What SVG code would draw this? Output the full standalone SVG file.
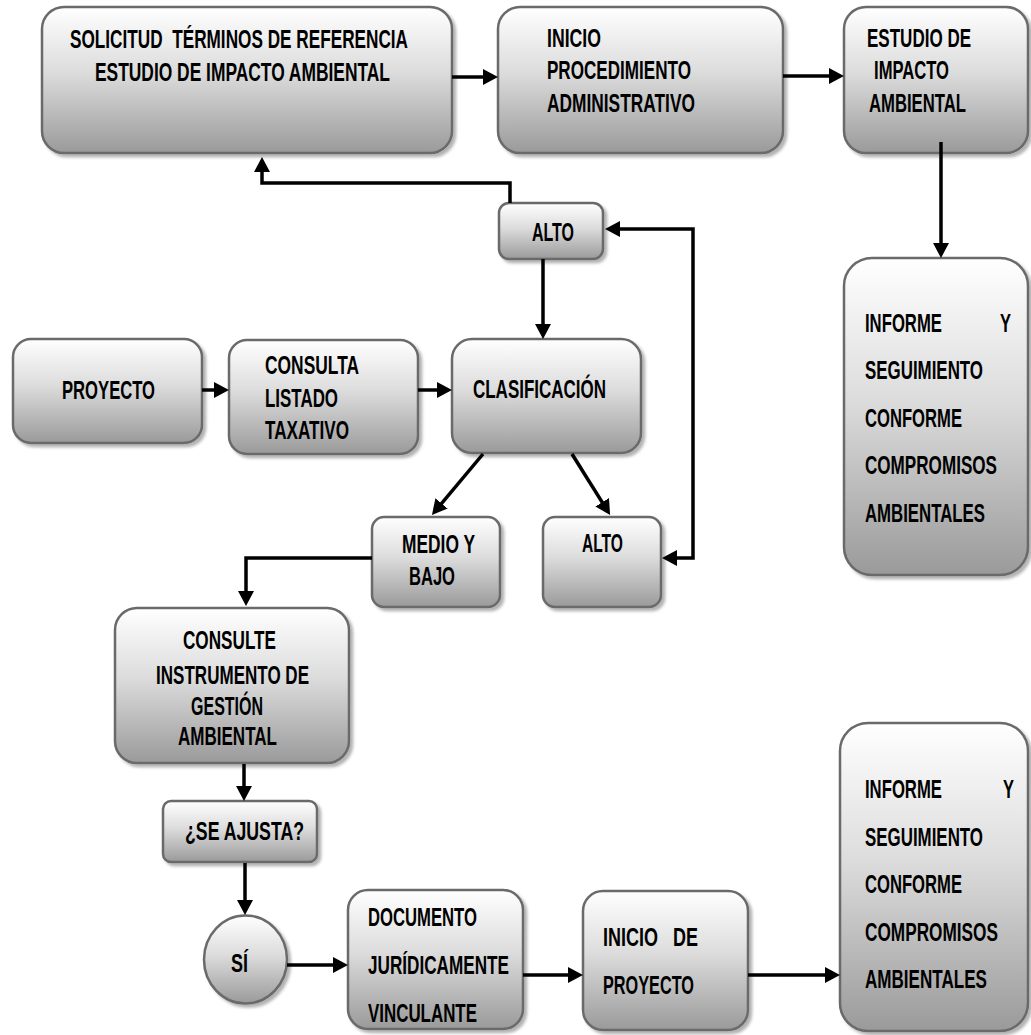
<svg xmlns="http://www.w3.org/2000/svg" width="1031" height="1035" viewBox="0 0 1031 1035">
<style>
.box{fill:url(#g);stroke:#6a6a6a;stroke-width:2.5;filter:url(#sh)}
.t{font-family:"Liberation Sans",Arial,sans-serif;font-weight:bold;font-size:26px;fill:#000}
.c{fill:none;stroke:#000;stroke-width:3.5;marker-end:url(#ah)}
</style>
<defs>
<linearGradient id="g" x1="0" y1="0" x2="0" y2="1">
<stop offset="0" stop-color="#ffffff"/>
<stop offset="0.45" stop-color="#dcdcdc"/>
<stop offset="1" stop-color="#9a9a9a"/>
</linearGradient>
<filter id="sh" x="-10%" y="-10%" width="125%" height="125%">
<feDropShadow dx="3" dy="3" stdDeviation="1.5" flood-color="#000" flood-opacity="0.3"/>
</filter>
<marker id="ah" markerUnits="userSpaceOnUse" markerWidth="16" markerHeight="16" refX="11" refY="8" orient="auto-start-reverse" viewBox="0 0 16 16">
<path d="M0,0 L15,8 L0,16 z" fill="#000"/>
</marker>
</defs>

<g id="n-solicitud">
<rect class="box" x="42" y="7" width="410" height="146" rx="22"/>
<text class="t" transform="scale(0.7,1)" x="100" y="48" textLength="482.9" lengthAdjust="spacingAndGlyphs" xml:space="preserve">SOLICITUD  TÉRMINOS DE REFERENCIA</text>
<text class="t" transform="scale(0.7,1)" x="135.7" y="81" textLength="421.4" lengthAdjust="spacingAndGlyphs">ESTUDIO DE IMPACTO AMBIENTAL</text>
</g>

<g id="n-inicio-proc">
<rect class="box" x="498" y="7" width="285" height="146" rx="22"/>
<text class="t" transform="scale(0.7,1)" x="781.4" y="47" textLength="77.1" lengthAdjust="spacingAndGlyphs">INICIO</text>
<text class="t" transform="scale(0.7,1)" x="781.4" y="79" textLength="205.7" lengthAdjust="spacingAndGlyphs">PROCEDIMIENTO</text>
<text class="t" transform="scale(0.7,1)" x="781.4" y="112" textLength="211.4" lengthAdjust="spacingAndGlyphs">ADMINISTRATIVO</text>
</g>

<g id="n-estudio">
<rect class="box" x="844" y="7" width="184" height="146" rx="22"/>
<text class="t" transform="scale(0.7,1)" x="1238.6" y="47" textLength="148.6" lengthAdjust="spacingAndGlyphs">ESTUDIO DE</text>
<text class="t" transform="scale(0.7,1)" x="1248.6" y="79" textLength="107.1" lengthAdjust="spacingAndGlyphs">IMPACTO</text>
<text class="t" transform="scale(0.7,1)" x="1241.4" y="112" textLength="138.6" lengthAdjust="spacingAndGlyphs">AMBIENTAL</text>
</g>

<g id="n-informe1">
<rect class="box" x="844" y="258" width="184" height="317" rx="28"/>
<text class="t" transform="scale(0.7,1)" x="1235.7" y="332" textLength="110" lengthAdjust="spacingAndGlyphs">INFORME</text>
<text class="t" transform="scale(0.7,1)" x="1428.6" y="332" textLength="15.7" lengthAdjust="spacingAndGlyphs">Y</text>
<text class="t" transform="scale(0.7,1)" x="1235.7" y="379" textLength="168.6" lengthAdjust="spacingAndGlyphs">SEGUIMIENTO</text>
<text class="t" transform="scale(0.7,1)" x="1235.7" y="427" textLength="138.6" lengthAdjust="spacingAndGlyphs">CONFORME</text>
<text class="t" transform="scale(0.7,1)" x="1235.7" y="474" textLength="188.6" lengthAdjust="spacingAndGlyphs">COMPROMISOS</text>
<text class="t" transform="scale(0.7,1)" x="1235.7" y="522" textLength="171.4" lengthAdjust="spacingAndGlyphs">AMBIENTALES</text>
</g>

<g id="n-alto1">
<rect class="box" x="499" y="203" width="104" height="56" rx="10"/>
<text class="t" transform="scale(0.7,1)" x="760" y="241" textLength="60" lengthAdjust="spacingAndGlyphs">ALTO</text>
</g>

<g id="n-proyecto">
<rect class="box" x="13" y="339" width="189" height="104" rx="18"/>
<text class="t" transform="scale(0.7,1)" x="88.6" y="399" textLength="132.9" lengthAdjust="spacingAndGlyphs">PROYECTO</text>
</g>

<g id="n-consulta">
<rect class="box" x="229" y="340" width="189" height="114" rx="18"/>
<text class="t" transform="scale(0.7,1)" x="378.6" y="374" textLength="134.3" lengthAdjust="spacingAndGlyphs">CONSULTA</text>
<text class="t" transform="scale(0.7,1)" x="378.6" y="407" textLength="104.3" lengthAdjust="spacingAndGlyphs">LISTADO</text>
<text class="t" transform="scale(0.7,1)" x="378.6" y="439" textLength="120" lengthAdjust="spacingAndGlyphs">TAXATIVO</text>
</g>

<g id="n-clasificacion">
<rect class="box" x="452" y="339" width="189" height="114" rx="20"/>
<text class="t" transform="scale(0.7,1)" x="675.7" y="398" textLength="190" lengthAdjust="spacingAndGlyphs">CLASIFICACIÓN</text>
</g>

<g id="n-medio">
<rect class="box" x="372" y="517" width="128" height="90" rx="12"/>
<text class="t" transform="scale(0.7,1)" x="574.3" y="553" textLength="104.3" lengthAdjust="spacingAndGlyphs">MEDIO Y</text>
<text class="t" transform="scale(0.7,1)" x="584.3" y="585" textLength="65.7" lengthAdjust="spacingAndGlyphs">BAJO</text>
</g>

<g id="n-alto2">
<rect class="box" x="543" y="517" width="118" height="90" rx="12"/>
<text class="t" transform="scale(0.7,1)" x="831.4" y="552" textLength="58.6" lengthAdjust="spacingAndGlyphs">ALTO</text>
</g>

<g id="n-consulte">
<rect class="box" x="115" y="608" width="234" height="155" rx="22"/>
<text class="t" transform="scale(0.7,1)" x="261.4" y="649" textLength="132.9" lengthAdjust="spacingAndGlyphs">CONSULTE</text>
<text class="t" transform="scale(0.7,1)" x="222.9" y="684" textLength="218.6" lengthAdjust="spacingAndGlyphs">INSTRUMENTO DE</text>
<text class="t" transform="scale(0.7,1)" x="272.9" y="715" textLength="102.9" lengthAdjust="spacingAndGlyphs">GESTIÓN</text>
<text class="t" transform="scale(0.7,1)" x="254.3" y="745" textLength="141.4" lengthAdjust="spacingAndGlyphs">AMBIENTAL</text>
</g>

<g id="n-seajusta">
<rect class="box" x="163" y="801" width="154" height="61" rx="8"/>
<text class="t" transform="scale(0.7,1)" x="264.3" y="840" textLength="170" lengthAdjust="spacingAndGlyphs">¿SE AJUSTA?</text>
</g>

<g id="n-si">
<ellipse class="box" cx="245.5" cy="959.5" rx="41.5" ry="44"/>
<text class="t" transform="scale(0.7,1)" x="330" y="972" textLength="24.3" lengthAdjust="spacingAndGlyphs">SÍ</text>
</g>

<g id="n-documento">
<rect class="box" x="348" y="890" width="175" height="139" rx="20"/>
<text class="t" transform="scale(0.7,1)" x="525.7" y="926" textLength="155.7" lengthAdjust="spacingAndGlyphs">DOCUMENTO</text>
<text class="t" transform="scale(0.7,1)" x="525.7" y="974" textLength="201.4" lengthAdjust="spacingAndGlyphs">JURÍDICAMENTE</text>
<text class="t" transform="scale(0.7,1)" x="525.7" y="1022" textLength="155.7" lengthAdjust="spacingAndGlyphs">VINCULANTE</text>
</g>

<g id="n-inicio-proyecto">
<rect class="box" x="583" y="891" width="165" height="139" rx="20"/>
<text class="t" transform="scale(0.7,1)" x="861.4" y="946" textLength="135.7" lengthAdjust="spacingAndGlyphs" xml:space="preserve">INICIO   DE</text>
<text class="t" transform="scale(0.7,1)" x="861.4" y="994" textLength="130" lengthAdjust="spacingAndGlyphs">PROYECTO</text>
</g>

<g id="n-informe2">
<rect class="box" x="840" y="723" width="188" height="308" rx="28"/>
<text class="t" transform="scale(0.7,1)" x="1235.7" y="798" textLength="110" lengthAdjust="spacingAndGlyphs">INFORME</text>
<text class="t" transform="scale(0.7,1)" x="1432.9" y="798" textLength="15.7" lengthAdjust="spacingAndGlyphs">Y</text>
<text class="t" transform="scale(0.7,1)" x="1235.7" y="846" textLength="168.6" lengthAdjust="spacingAndGlyphs">SEGUIMIENTO</text>
<text class="t" transform="scale(0.7,1)" x="1235.7" y="893" textLength="138.6" lengthAdjust="spacingAndGlyphs">CONFORME</text>
<text class="t" transform="scale(0.7,1)" x="1235.7" y="941" textLength="190" lengthAdjust="spacingAndGlyphs">COMPROMISOS</text>
<text class="t" transform="scale(0.7,1)" x="1235.7" y="988" textLength="174.3" lengthAdjust="spacingAndGlyphs">AMBIENTALES</text>
</g>

<g id="connectors">
<line class="c" x1="452" y1="77" x2="494" y2="77"/>
<line class="c" x1="783" y1="76" x2="840" y2="76"/>
<line class="c" x1="941" y1="142" x2="941" y2="254"/>
<path class="c" d="M510,203 V183 H262 V161"/>
<line class="c" x1="543" y1="259" x2="543" y2="335"/>
<line class="c" x1="202" y1="390" x2="225" y2="390"/>
<line class="c" x1="418" y1="390" x2="448" y2="390"/>
<line class="c" x1="483" y1="454" x2="434.5" y2="511.9"/>
<line class="c" x1="572" y1="454" x2="608" y2="511.6"/>
<path class="c" style="marker-start:url(#ah)" d="M666,558 H693 V229 H609"/>
<path class="c" d="M372,558 H246 V602"/>
<line class="c" x1="244" y1="764" x2="244" y2="797"/>
<line class="c" x1="245" y1="863" x2="245" y2="911"/>
<line class="c" x1="287" y1="965" x2="344" y2="965"/>
<line class="c" x1="523" y1="975" x2="579" y2="975"/>
<line class="c" x1="748" y1="975" x2="836" y2="975"/>
</g>
</svg>
